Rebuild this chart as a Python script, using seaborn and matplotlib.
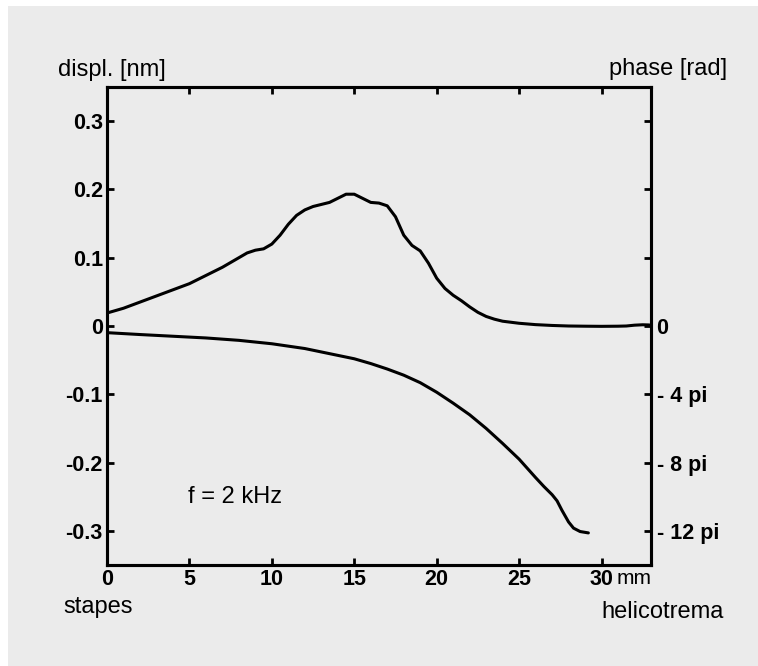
import numpy as np
import seaborn as sns
import matplotlib
matplotlib.use("Agg")
import matplotlib.pyplot as plt
from matplotlib.patches import Rectangle

# Basilar membrane response along the cochlea, f = 2 kHz
# displacement amplitude [nm] versus distance from the stapes [mm]
pos_disp = [0.0, 1.0, 2.0, 3.0, 4.0, 5.0, 6.0, 7.0, 8.0, 8.5, 9.0, 9.5, 10.0,
            10.5, 11.0, 11.5, 12.0, 12.5, 13.0, 13.5, 14.0, 14.5, 15.0, 15.5,
            16.0, 16.5, 17.0, 17.5, 18.0, 18.5, 19.0, 19.5, 20.0, 20.5, 21.0,
            21.5, 22.0, 22.5, 23.0, 23.5, 24.0, 25.0, 26.0, 27.0, 28.0, 29.0,
            30.0, 31.0, 31.5, 32.0, 32.5, 32.9]
disp_nm = [0.019, 0.026, 0.035, 0.044, 0.053, 0.062, 0.074, 0.086, 0.100, 0.107,
           0.111, 0.113, 0.120, 0.133, 0.149, 0.162, 0.170, 0.175, 0.178, 0.181,
           0.187, 0.193, 0.193, 0.187, 0.181, 0.180, 0.176, 0.160, 0.133, 0.118,
           0.110, 0.092, 0.070, 0.055, 0.045, 0.037, 0.028, 0.020, 0.014, 0.010,
           0.007, 0.004, 0.002, 0.0008, 0.0, -0.0003, -0.0005, -0.0003, 0.0,
           0.0012, 0.0018, 0.0015]

# phase [units of pi rad] versus distance from the stapes [mm]
pos_phase = [0.0, 2.0, 4.0, 6.0, 8.0, 10.0, 12.0, 14.0, 15.0, 16.0, 17.0, 18.0,
             19.0, 20.0, 21.0, 22.0, 23.0, 24.0, 25.0, 26.0, 26.5, 27.0, 27.3,
             27.6, 28.0, 28.3, 28.7, 29.2]
phase_pi = [-0.39, -0.5, -0.6, -0.7, -0.84, -1.04, -1.32, -1.72, -1.92, -2.2,
            -2.52, -2.88, -3.32, -3.88, -4.52, -5.2, -6.0, -6.88, -7.8, -8.88,
            -9.4, -9.88, -10.24, -10.8, -11.48, -11.84, -12.04, -12.12]

disp_ticks = [-0.3, -0.2, -0.1, 0.0, 0.1, 0.2, 0.3]
disp_ticklabels = ["-0.3", "-0.2", "-0.1", "0", "0.1", "0.2", "0.3"]
phase_ticks_pi = [-12, -8, -4, 0, 4, 8, 12]
phase_ticklabels = ["- 12 pi", "- 8 pi", "- 4 pi", "0", "", "", ""]
x_ticks = [0, 5, 10, 15, 20, 25, 30]

sns.set_theme(style="ticks")
plt.rcParams["font.family"] = ["Liberation Sans", "DejaVu Sans"]
plt.rcParams["text.color"] = "black"

W, H = 758, 666
bg = "#ebebeb"
fig = plt.figure(figsize=(W / 100, H / 100), dpi=100)
fig.patch.set_facecolor("white")
fig.patches.append(Rectangle((8 / W, 0), 1, 1 - 6 / H, transform=fig.transFigure,
                             facecolor=bg, edgecolor="none", zorder=-5))

ax = fig.add_axes([107 / W, 1 - 565 / H, (651 - 107) / W, (565 - 87) / H])
ax.set_facecolor(bg)

line_kw = dict(color="black", linewidth=2.2, sort=False, estimator=None,
               solid_joinstyle="round", solid_capstyle="round")
sns.lineplot(x=pos_disp, y=disp_nm, ax=ax, **line_kw)
ax.set_xlim(0, 33)
ax.set_ylim(-0.35, 0.35)
ax.set_xticks(x_ticks)
ax.set_xticklabels([str(t) for t in x_ticks])
ax.set_yticks(disp_ticks)
ax.set_yticklabels(disp_ticklabels)
ax.tick_params(direction="in", length=5, width=2, top=True, right=False,
               labelsize=15.5, pad=3, colors="black")
for lab in ax.get_xticklabels() + ax.get_yticklabels():
    lab.set_fontweight("bold")
for s in ax.spines.values():
    s.set_linewidth(2.2)
    s.set_color("black")

ax2 = ax.twinx()
phase_rad = [p * np.pi for p in phase_pi]
sns.lineplot(x=pos_phase, y=phase_rad, ax=ax2, **line_kw)
ax2.set_ylim(-14 * np.pi, 14 * np.pi)
ax2.set_yticks([t * np.pi for t in phase_ticks_pi])
ax2.set_yticklabels(phase_ticklabels)
ax2.set_ylabel("")
ax2.tick_params(axis="y", direction="in", length=5, width=2, labelsize=15.5,
                pad=4, colors="black")
for lab in ax2.get_yticklabels():
    lab.set_fontweight("bold")
for s in ax2.spines.values():
    s.set_linewidth(2.2)
    s.set_color("black")
ax.set_xlabel("")
ax.set_ylabel("")

# axis annotations
fs = 17
fig.text(58 / W, 1 - 70 / H, "displ. [nm]", ha="left", va="center", fontsize=fs)
fig.text(727 / W, 1 - 69 / H, "phase [rad]", ha="right", va="center", fontsize=fs)
fig.text(63 / W, 1 - 607 / H, "stapes", ha="left", va="center", fontsize=fs)
fig.text(601 / W, 1 - 612 / H, "helicotrema", ha="left", va="center", fontsize=fs)
fig.text(617 / W, 1 - 578 / H, "mm", ha="left", va="center", fontsize=15)
ax.text(4.9, -0.25, "f = 2 kHz", ha="left", va="center", fontsize=fs)

fig.savefig("out.png", dpi=100, facecolor=fig.get_facecolor())
